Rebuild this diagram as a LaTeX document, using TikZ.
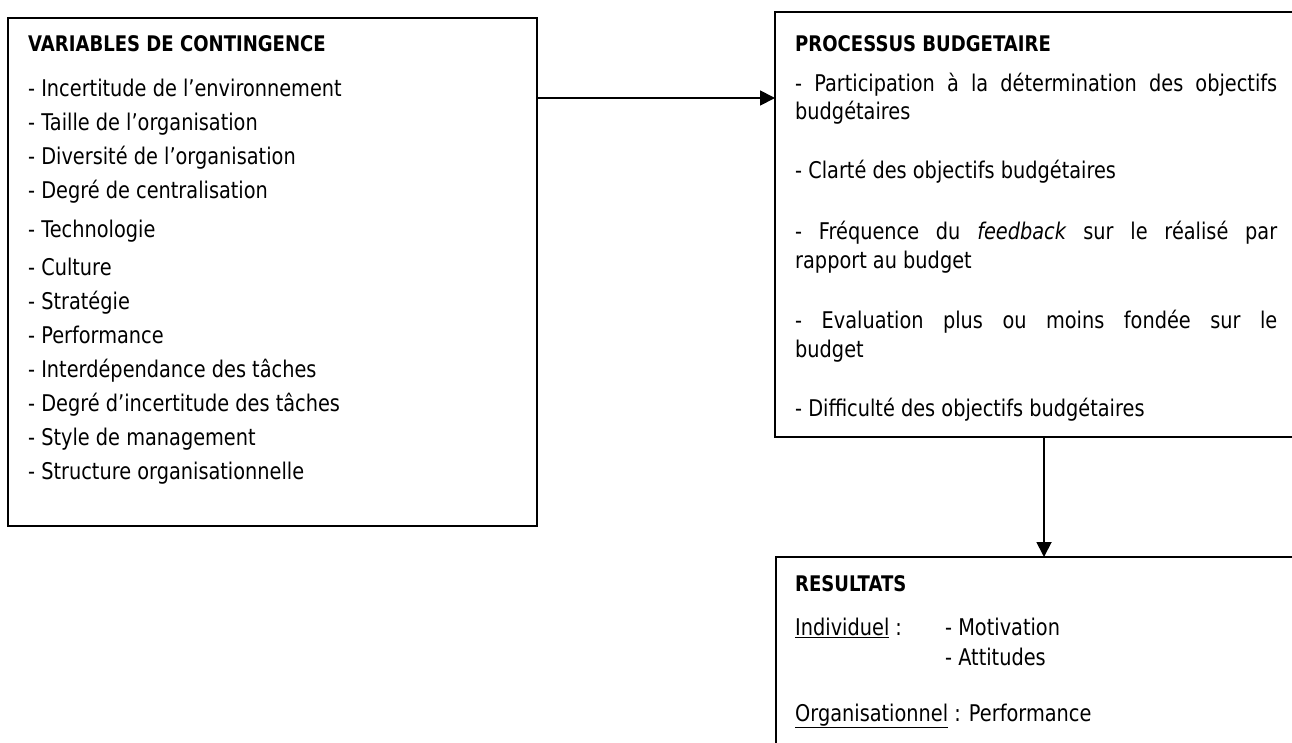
\documentclass[tikz,border=0pt]{standalone}
\usepackage{fontspec}
\setmainfont{DejaVu Sans}[FakeStretch=0.84]
\usetikzlibrary{arrows.meta,positioning}

\begin{document}
\begin{tikzpicture}[x=1pt,y=-1pt,
    box/.style={draw,line width=1.8pt,inner sep=0pt,outer sep=0pt,anchor=north west},
    item/.style={anchor=base west,inner sep=0pt,font=\fontsize{23}{27}\selectfont},
    head/.style={anchor=base west,inner sep=0pt,font=\fontsize{21.5}{26}\selectfont\bfseries},
    flow/.style={line width=1.8pt,-{Triangle[length=15pt,width=15pt]}}]
        \useasboundingbox (0,0) rectangle (1292,742);

        % the three boxes
        \node[box,minimum width=529pt,minimum height=508pt] at (8,18) (contingence) {};
        \node[box,minimum width=560pt,minimum height=425pt] at (775,12) (processus) {};
        \node[box,minimum width=560pt,minimum height=220pt] at (776,557) (resultats) {};

        % variables de contingence
        \node[head] at (28,51) (vtitle) {VARIABLES DE CONTINGENCE};
        \foreach \y/\t [count=\i] in {96/Incertitude de l’environnement,
                130/Taille de l’organisation, 164/Diversité de l’organisation,
                198/Degré de centralisation, 237/Technologie, 275/Culture,
                309/Stratégie, 343/Performance, 377/Interdépendance des tâches,
                411/Degré d’incertitude des tâches, 445/Style de management,
                479/Structure organisationnelle}
            \node[item] at (28,\y) (v\i) {- \t};

        % processus budgetaire
        \node[head] at (795,51) (ptitle) {PROCESSUS BUDGETAIRE};
        \foreach \y/\t [count=\i] in {
                91/{\makebox[482pt][s]{- Participation à la détermination des objectifs}},
                119/budgétaires, 178/- Clarté des objectifs budgétaires,
                239/{\makebox[482pt][s]{- Fréquence du \textit{feedback} sur le réalisé par}},
                268/rapport au budget,
                328/{\makebox[482pt][s]{- Evaluation plus ou moins fondée sur le}},
                357/budget, 416/- Difficulté des objectifs budgétaires}
            \node[item] at (795,\y) (p\i) {\t};

        % resultats
        \node[head] at (795,591) (rtitle) {RESULTATS};
        \node[item] at (795,635) (indiv) {\underline{Individuel} :};
        \node[item] at (945,635) (motiv) {- Motivation};
        \node[item] at (945,665) (attit) {- Attitudes};
        \node[item] at (795,721) (orga) {\underline{Organisationnel} : Performance};

        \draw[flow] ([yshift=-80pt]contingence.north east) -- ([yshift=-80pt]contingence.north east -| processus.west);
        \draw[flow] ([xshift=269pt]processus.south west) -- ([xshift=269pt]processus.south west |- resultats.north);
    \end{tikzpicture}
\end{document}
